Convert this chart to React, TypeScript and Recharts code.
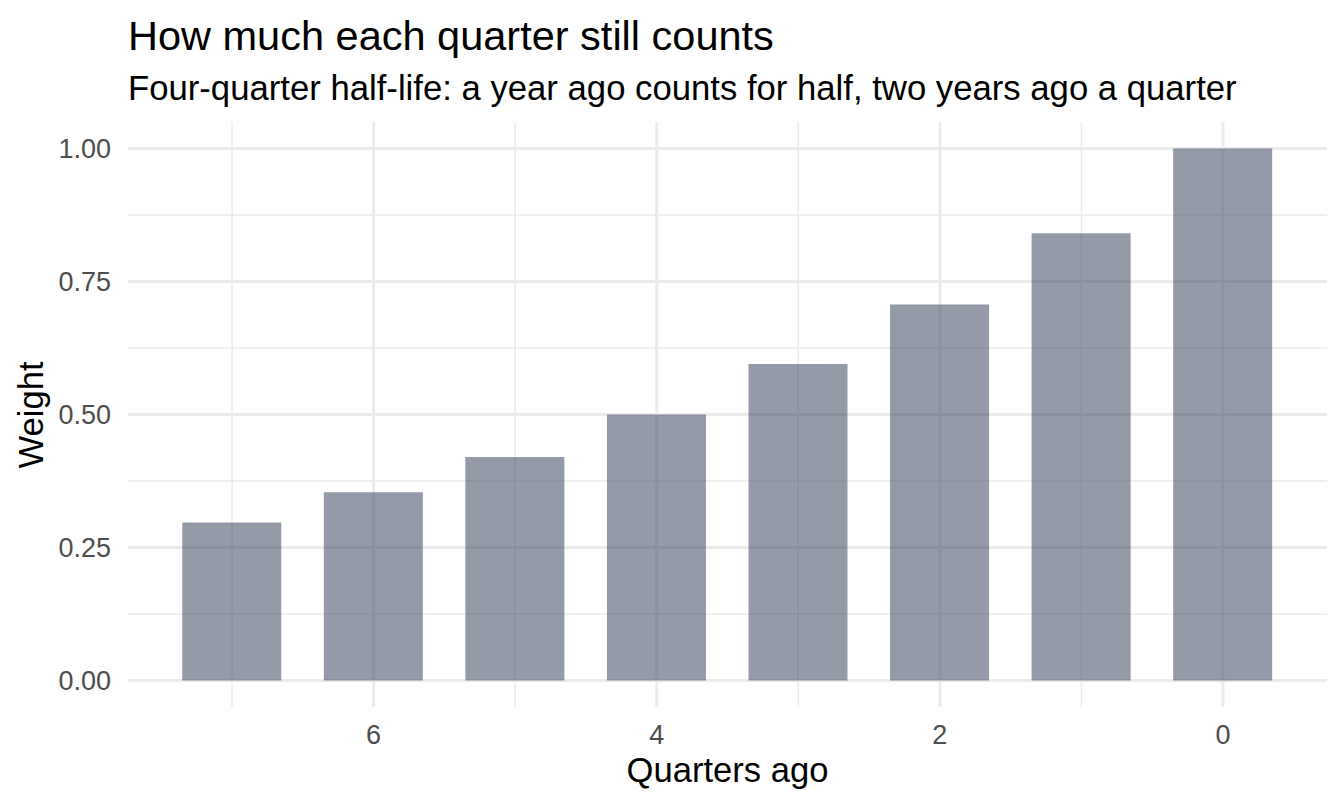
import React from "react";
import { BarChart, Bar, XAxis, YAxis, CartesianGrid } from "recharts";

const quarters = [7, 6, 5, 4, 3, 2, 1, 0];
const weights = [0.297, 0.354, 0.42, 0.5, 0.595, 0.707, 0.841, 1.0];

const xMajorTicks = [0, 2, 4, 6];
const xMinorTicks = [1, 3, 5, 7];
const yMajorTicks = [0, 0.25, 0.5, 0.75, 1.0];
const yMinorTicks = [0.125, 0.375, 0.625, 0.875];

const xDomain = [-0.735, 7.735];
const yDomain = [-0.05, 1.05];

const data = quarters.map((q, i) => ({ quarter: q, weight: weights[i] }));

const FONT = "'Liberation Sans', Arial, Helvetica, sans-serif";
const GRID = "#EBEBEB";
const TICK_STYLE = { fontSize: 27, fill: "#4D4D4D", fontFamily: FONT };

const App: React.FC = () => {
  return (
    <div
      style={{
        position: "absolute",
        left: 0,
        top: 0,
        width: 1344,
        height: 806,
        background: "#ffffff",
        fontFamily: FONT,
        overflow: "hidden",
      }}
    >
      <div
        style={{
          position: "absolute",
          left: 128,
          top: 15,
          fontSize: 41.5,
          lineHeight: "41.5px",
          color: "#000",
          whiteSpace: "nowrap",
        }}
      >
        How much each quarter still counts
      </div>
      <div
        style={{
          position: "absolute",
          left: 128,
          top: 70.5,
          fontSize: 34.7,
          lineHeight: "34.7px",
          color: "#000",
          whiteSpace: "nowrap",
        }}
      >
        Four-quarter half-life: a year ago counts for half, two years ago a quarter
      </div>

      <div style={{ position: "absolute", left: 0, top: 0 }}>
        <BarChart
          width={1344}
          height={806}
          data={data}
          margin={{ top: 122, right: 17, bottom: 39, left: 28 }}
        >
          <XAxis
            xAxisId="minor"
            type="number"
            dataKey="quarter"
            domain={xDomain}
            allowDataOverflow
            reversed
            ticks={xMinorTicks}
            hide
          />
          <YAxis
            yAxisId="minor"
            type="number"
            domain={yDomain}
            allowDataOverflow
            ticks={yMinorTicks}
            hide
          />
          <XAxis
            type="number"
            dataKey="quarter"
            domain={xDomain}
            allowDataOverflow
            reversed
            ticks={xMajorTicks}
            interval={0}
            height={60}
            tickLine={false}
            axisLine={false}
            tickSize={0}
            tickMargin={18}
            tick={TICK_STYLE}
          />
          <YAxis
            type="number"
            domain={yDomain}
            allowDataOverflow
            ticks={yMajorTicks}
            interval={0}
            width={100}
            tickLine={false}
            axisLine={false}
            tickSize={0}
            tickMargin={17}
            tick={TICK_STYLE}
            tickFormatter={(v: number) => v.toFixed(2)}
          />
          <CartesianGrid
            xAxisId="minor"
            yAxisId="minor"
            stroke={GRID}
            strokeWidth={1.5}
            syncWithTicks
          />
          <CartesianGrid stroke={GRID} strokeWidth={3} syncWithTicks />
          <Bar
            dataKey="weight"
            fill="#2A3550"
            fillOpacity={0.5}
            barSize={99}
            isAnimationActive={false}
          />
        </BarChart>
      </div>

      <div
        style={{
          position: "absolute",
          left: 577.5,
          top: 752.5,
          width: 300,
          textAlign: "center",
          fontSize: 34.6,
          lineHeight: "34.6px",
          color: "#000",
          whiteSpace: "nowrap",
        }}
      >
        Quarters ago
      </div>
      <div
        style={{
          position: "absolute",
          left: -119,
          top: 397.5,
          width: 300,
          height: 34,
          textAlign: "center",
          fontSize: 34.6,
          lineHeight: "34px",
          color: "#000",
          whiteSpace: "nowrap",
          transform: "rotate(-90deg)",
        }}
      >
        Weight
      </div>
    </div>
  );
};

export default App;
